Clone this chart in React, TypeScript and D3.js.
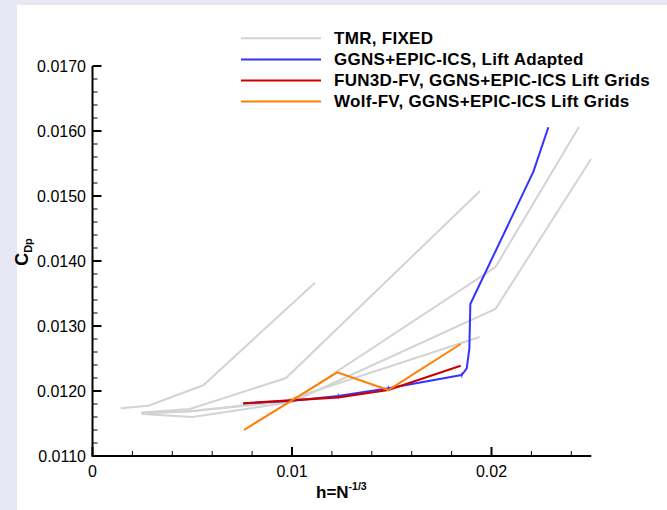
import React from "react";
import * as d3 from "d3";

// ---- data (h, C_Dp) ----
const tmr1: [number, number][] = [
  [0.001414, 0.011734],
  [0.002797, 0.011774],
  [0.005554, 0.012088],
  [0.011153, 0.013666],
];
const tmr2: [number, number][] = [
  [0.002431, 0.011669],
  [0.004887, 0.011723],
  [0.009699, 0.0122],
  [0.019424, 0.015077],
];
const tmr3: [number, number][] = [
  [0.0025, 0.011662],
  [0.005, 0.011692],
  [0.01, 0.011846],
  [0.0202, 0.013908],
  [0.02438, 0.016062],
];
const tmr4: [number, number][] = [
  [0.0025, 0.011646],
  [0.005, 0.0116],
  [0.01, 0.011831],
  [0.0202, 0.013262],
  [0.02499, 0.015569],
];
const tmr5: [number, number][] = [
  [0.00243, 0.011654],
  [0.00486, 0.011685],
  [0.0097, 0.011854],
  [0.0194, 0.012831],
];
const ggnsAdapted: [number, number][] = [
  [0.00756, 0.011811],
  [0.0099, 0.011846],
  [0.01232, 0.011923],
  [0.01483, 0.012042],
  [0.01851, 0.012246],
  [0.01876, 0.012349],
  [0.01889, 0.012657],
  [0.01894, 0.013338],
  [0.0221, 0.015374],
  [0.02285, 0.016057],
];
const fun3d: [number, number][] = [
  [0.00756, 0.011811],
  [0.01232, 0.011903],
  [0.01483, 0.012015],
  [0.018456, 0.012389],
];
const wolf: [number, number][] = [
  [0.00759, 0.0114],
  [0.01227, 0.012288],
  [0.01483, 0.012015],
  [0.018456, 0.012723],
];

const xMajor = [0, 0.01, 0.02];
const xMajorLabels = ["0", "0.01", "0.02"];
const xMinor = [0.002, 0.004, 0.006, 0.008, 0.012, 0.014, 0.016, 0.018, 0.022, 0.024];
const yMajor = [0.011, 0.012, 0.013, 0.014, 0.015, 0.016, 0.017];
const yMajorLabels = ["0.0110", "0.0120", "0.0130", "0.0140", "0.0150", "0.0160", "0.0170"];

const legendLabels = [
  "TMR, FIXED",
  "GGNS+EPIC-ICS, Lift Adapted",
  "FUN3D-FV, GGNS+EPIC-ICS Lift Grids",
  "Wolf-FV, GGNS+EPIC-ICS Lift Grids",
];
const legendColors = ["#d3d3d3", "#3333ff", "#cc0000", "#ff8000"];

const W = 667;
const H = 510;

export default function App() {
  const x = d3.scaleLinear().domain([0, 0.025]).range([92.5, 591.25]);
  const y = d3.scaleLinear().domain([0.011, 0.017]).range([456, 66]);
  const line = d3
    .line<[number, number]>()
    .x((d) => x(d[0]))
    .y((d) => y(d[1]));

  const yMinor: number[] = [];
  for (let i = 0; i <= 30; i++) {
    const v = 0.011 + i * 0.0002;
    if (i % 5 !== 0) yMinor.push(v);
  }

  const font = "'Liberation Sans', Arial, Helvetica, sans-serif";
  const tmr = [tmr1, tmr2, tmr3, tmr4, tmr5];

  return (
    <svg
      width={W}
      height={H}
      style={{ position: "absolute", left: 0, top: 0, background: "#fff" }}
      fontFamily={font}
    >
      <rect x={0} y={0} width={W} height={5} fill="#e8e8f5" />
      <rect x={0} y={0} width={17} height={H} fill="#e8e8f5" />

      {/* data */}
      {tmr.map((s, i) => (
        <path key={"t" + i} d={line(s) || ""} fill="none" stroke="#d3d3d3" strokeWidth={2} />
      ))}
      <path d={line(ggnsAdapted) || ""} fill="none" stroke="#3333ff" strokeWidth={2} strokeLinejoin="round" />
      {ggnsAdapted.slice(2, 5).map((d, i) => (
        <line key={"m" + i} x1={x(d[0])} x2={x(d[0])} y1={y(d[1]) - 2.5} y2={y(d[1]) + 2.5} stroke="#3333ff" strokeWidth={1} />
      ))}
      <path d={line(fun3d) || ""} fill="none" stroke="#cc0000" strokeWidth={2.2} />
      <path d={line(wolf) || ""} fill="none" stroke="#ff8000" strokeWidth={2} />

      {/* axes */}
      <line x1={x(0)} x2={x(0.025)} y1={y(0.011)} y2={y(0.011)} stroke="#000" strokeWidth={2} />
      <line x1={x(0)} x2={x(0)} y1={y(0.011) + 1} y2={y(0.017)} stroke="#000" strokeWidth={2} />
      {xMajor.map((v, i) => (
        <g key={"xm" + i}>
          <line x1={x(v)} x2={x(v)} y1={y(0.011)} y2={y(0.011) - 9} stroke="#000" strokeWidth={2} />
          <text x={x(v)} y={477} textAnchor="middle" fontSize={16} fill="#000">
            {xMajorLabels[i]}
          </text>
        </g>
      ))}
      {xMinor.map((v, i) => (
        <line key={"xn" + i} x1={x(v)} x2={x(v)} y1={y(0.011)} y2={y(0.011) - 5} stroke="#000" strokeWidth={1} />
      ))}
      {yMajor.map((v, i) => (
        <g key={"ym" + i}>
          <line x1={x(0)} x2={x(0) + 9} y1={y(v)} y2={y(v)} stroke="#000" strokeWidth={2} />
          <text x={86} y={y(v) + 5.5} textAnchor="end" fontSize={16} fill="#000">
            {yMajorLabels[i]}
          </text>
        </g>
      ))}
      {yMinor.map((v, i) => (
        <line key={"yn" + i} x1={x(0)} x2={x(0) + 5} y1={y(v)} y2={y(v)} stroke="#000" strokeWidth={1} />
      ))}

      {/* axis titles */}
      <text x={316} y={498} fontSize={17} fontWeight="bold" fill="#000">
        h=N
        <tspan fontSize={10.5} dy={-8}>-1/3</tspan>
      </text>
      <g transform="translate(28,252) rotate(-90)">
        <text x={0} y={0} textAnchor="middle" fontSize={18} fontWeight="bold" fill="#000">
          C<tspan fontSize={11} dy={4}>Dp</tspan>
        </text>
      </g>

      {/* legend */}
      {legendLabels.map((lab, i) => {
        const ly = 38.3 + i * 21.1;
        return (
          <g key={"lg" + i}>
            <line x1={241} x2={321} y1={ly} y2={ly} stroke={legendColors[i]} strokeWidth={2} />
            <text x={334} y={ly + 5.5} fontSize={17} fontWeight="bold" letterSpacing={0.3} fill="#000">
              {lab}
            </text>
          </g>
        );
      })}
    </svg>
  );
}
